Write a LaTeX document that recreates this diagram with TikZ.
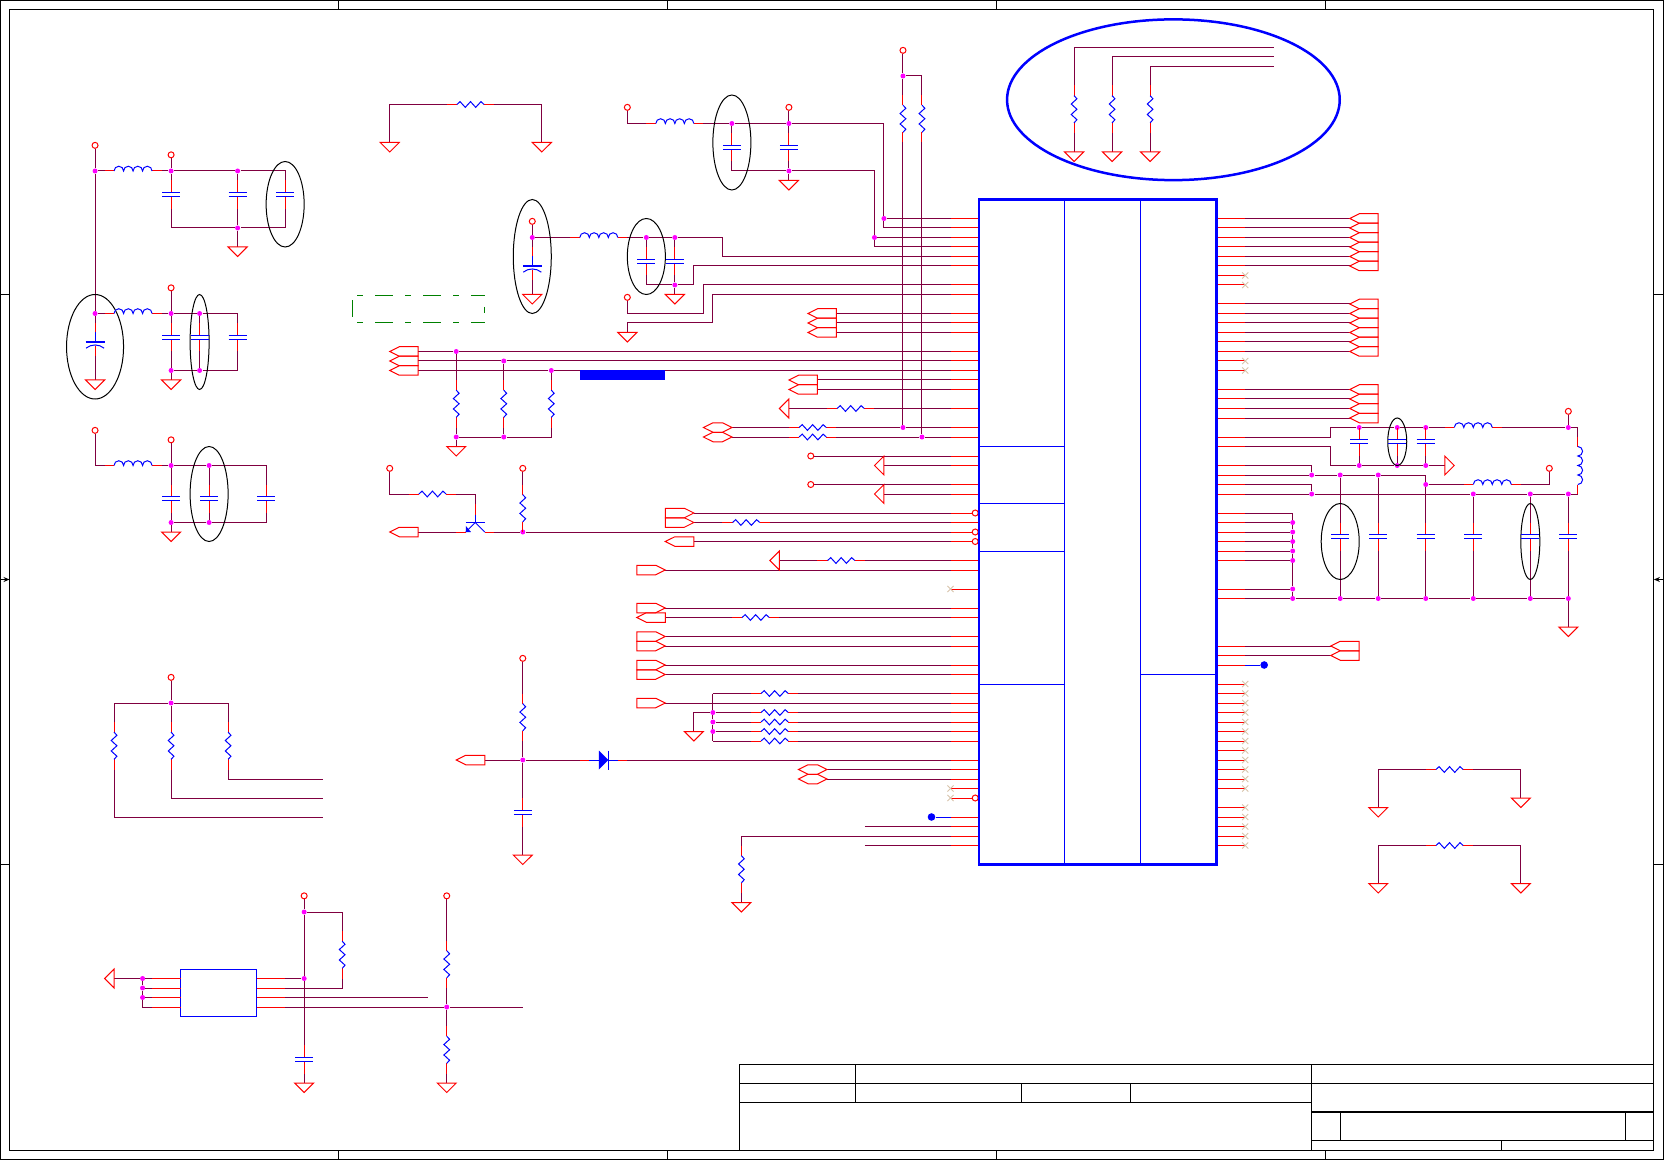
\documentclass[tikz,border=0pt]{standalone}
\usetikzlibrary{arrows.meta}
\definecolor{wirec}{RGB}{128,0,64}
\definecolor{ncc}{RGB}{215,195,170}
\definecolor{grn}{RGB}{0,128,0}
\definecolor{jcol}{RGB}{255,0,255}
\pgfdeclarelayer{wires}\pgfsetlayers{wires,main}
\tikzset{
 wire/.style={draw=wirec,line width=.5pt},
 pin/.style={draw=red,line width=.5pt},
 comp/.style={draw=blue,line width=.5pt},
 port/.style={draw=red,line width=.5pt,line join=miter},
 ncx/.style={draw=ncc,line width=.45pt},
 ell/.style={draw=black,line width=.5pt},
 fr/.style={draw=black,line width=.5pt},
 junc/.style={circle,fill=jcol,inner sep=0pt,minimum size=2.5pt},
 pwr/.style={circle,draw=red,fill=white,line width=.5pt,inner sep=0pt,minimum size=3pt},
 bub/.style={circle,draw=red,fill=white,line width=.5pt,inner sep=0pt,minimum size=3pt},
 bdot/.style={circle,fill=blue,inner sep=0pt,minimum size=3.8pt},
 bigbox/.style={draw=blue,line width=1.25pt,inner sep=0pt,outer sep=0pt},
 smallbox/.style={draw=blue,line width=.5pt,inner sep=0pt,outer sep=0pt}
}
% symbols, each with pin ends name-a and name-b
\newcommand\syRh[3]{\coordinate (#1-a) at (#2-2.5,#3);\coordinate (#1-b) at (#2+2.5,#3);
 \draw[pin] (#1-a)--(#2-1.43,#3);\draw[pin] (#2+1.43,#3)--(#1-b);
 \draw[comp] (#2-1.43,#3)--++(.33,-.3)--++(.55,.6)--++(.55,-.6)--++(.55,.6)--++(.55,-.6)--++(.33,.3);}
\newcommand\syRv[3]{\coordinate (#1-a) at (#2,#3-2.5);\coordinate (#1-b) at (#2,#3+2.5);
 \draw[pin] (#1-a)--(#2,#3-1.43);\draw[pin] (#2,#3+1.43)--(#1-b);
 \draw[comp] (#2,#3-1.43)--++(.3,.33)--++(-.6,.55)--++(.6,.55)--++(-.6,.55)--++(.6,.55)--++(-.3,.33);}
\newcommand\syCp[3]{\coordinate (#1-a) at (#2,#3-1.5);\coordinate (#1-b) at (#2,#3+1.5);
 \draw[pin] (#1-a)--(#2,#3-.23);\draw[pin] (#2,#3+.23)--(#1-b);
 \draw[comp] (#2-.95,#3-.23)--(#2+.95,#3-.23);\draw[comp] (#2-.95,#3+.23)--(#2+.95,#3+.23);}
\newcommand\syPC[3]{\coordinate (#1-a) at (#2,#3-2);\coordinate (#1-b) at (#2,#3+1.5);
 \draw[pin] (#1-a)--(#2,#3-1);\draw[comp] (#2,#3-1)--(#2,#3);\draw[pin] (#2,#3+.4)--(#1-b);
 \draw[comp,line width=.8pt] (#2-1,#3)--(#2+1,#3);
 \draw[comp] (#2-.95,#3+.65) .. controls (#2-.4,#3+.2) and (#2+.4,#3+.2) .. (#2+.95,#3+.65);}
\newcommand\syLh[3]{\coordinate (#1-a) at (#2-3,#3);\coordinate (#1-b) at (#2+3,#3);
 \draw[pin] (#1-a)--(#2-2,#3);\draw[pin] (#2+2,#3)--(#1-b);
 \draw[comp] (#2-2,#3) arc[start angle=180,end angle=0,radius=2.376pt] arc[start angle=180,end angle=0,radius=2.376pt] arc[start angle=180,end angle=0,radius=2.376pt] arc[start angle=180,end angle=0,radius=2.376pt];}
\newcommand\syLv[3]{\coordinate (#1-a) at (#2,#3-3);\coordinate (#1-b) at (#2,#3+3);
 \draw[pin] (#1-a)--(#2,#3-2);\draw[pin] (#2,#3+2)--(#1-b);
 \draw[comp] (#2,#3-2) arc[start angle=90,end angle=-90,radius=2.375pt] arc[start angle=90,end angle=-90,radius=2.375pt] arc[start angle=90,end angle=-90,radius=2.375pt] arc[start angle=90,end angle=-90,radius=2.375pt];}
\newcommand\syPw[3]{\node[pwr] (#1) at (#2,#3) {};}
\newcommand\syGd[3]{\coordinate (#1) at (#2,#3);\draw[port] (#2-1,#3)--(#2+1,#3)--(#2,#3+1)--cycle;}
\newcommand\syPL[3]{\coordinate (#1) at (#2+3,#3);\coordinate (#1t) at (#2,#3);
 \draw[port] (#2,#3)--(#2+1,#3-.5)--(#2+3,#3-.5)--(#2+3,#3+.5)--(#2+1,#3+.5)--cycle;}
\newcommand\syPR[3]{\coordinate (#1) at (#2,#3);
 \draw[port] (#2,#3)--(#2-1,#3-.5)--(#2-3,#3-.5)--(#2-3,#3+.5)--(#2-1,#3+.5)--cycle;}
\newcommand\syBD[3]{\coordinate (#1) at (#2,#3);
 \draw[port] (#2,#3)--(#2-1,#3-.5)--(#2-2,#3-.5)--(#2-3,#3)--(#2-2,#3+.5)--(#2-1,#3+.5)--cycle;}
\newcommand\syTL[3]{\coordinate (#1) at (#2,#3);\draw[port] (#2,#3-1)--(#2-1,#3)--(#2,#3+1)--cycle;}
\newcommand\syTR[3]{\coordinate (#1) at (#2,#3);\draw[port] (#2,#3-1)--(#2+1,#3)--(#2,#3+1)--cycle;}
\newcommand\syNC[2]{\draw[ncx] (#1-.32,#2-.32)--(#1+.32,#2+.32);\draw[ncx] (#1-.32,#2+.32)--(#1+.32,#2-.32);}
\begin{document}
\begin{tikzpicture}[x=4.7525pt,y=-4.75pt]
\useasboundingbox (0pt,0pt) rectangle (832pt,-580pt);
% sheet frame
\draw[fr] (.05,.05) rectangle (175,122);
\draw[fr] (1,1) rectangle (174,121.1);
\foreach \a in {35.6,70.2,104.85,139.45} {\draw[fr] (\a,.05)--(\a,1);\draw[fr] (\a,121.1)--(\a,122);}
\foreach \b in {31,91} {\draw[fr] (.05,\b)--(1,\b);\draw[fr] (174,\b)--(175,\b);}
\draw[fr,-{Stealth[length=3pt,width=2.5pt]}] (.05,61)--(1,61);
\draw[fr,-{Stealth[length=3pt,width=2.5pt]}] (175,61)--(174,61);
% title block
\draw[fr] (77.85,121.1)--(77.85,112)--(174,112);
\draw[fr] (77.85,114)--(174,114);
\draw[fr] (77.85,116)--(137.96,116);
\draw[fr] (90.03,112)--(90.03,116);
\draw[fr] (107.5,114)--(107.5,116);
\draw[fr] (118.97,114)--(118.97,116);
\draw[fr] (137.96,112)--(137.96,121.1);
\draw[fr,line width=1pt] (137.96,117)--(174,117);
\draw[fr] (137.96,120)--(174,120);
\draw[fr] (141.03,117)--(141.03,120);
\draw[fr] (171.05,117)--(171.05,120);
\draw[fr] (157.95,120)--(157.95,121.1);
% junctions
\foreach \a/\b in {10/18,18/18,25/18,25/24,10/33,18/33,21/33,18/39,21/39,18/49,22/49,18/55,22/55,77/13,83/13,83/18,93/23,92/25,56/25,68/25,71/25,71/30,48/37,53/38,58/39,48/46,53/46,95/45,97/46,95/8,55/56,75/75,75/76,75/77,55/80,143/45,147/45,150/45,165/45,143/49,147/49,150/49,138/50,141/50,145/50,150/51,138/52,155/52,161/52,165/52,136/55,136/56,136/57,136/58,136/59,136/62,136/63,141/63,145/63,150/63,155/63,161/63,165/63,18/74,15/103,15/104,15/105,32/96,32/103,47/106}
 {\node[junc] (j\a-\b) at (\a,\b) {};}
% bends and free wire ends
\foreach \a/\b in {76/27,73/28,74/33,75/34,140/45,140/49,75/73,75/78,15/106,134/5,134/6,134/7,34/82,34/84,34/86,91/87,91/89,45/105,55/106}
 {\coordinate (b\a-\b) at (\a,\b);}
% big part and its pins
\foreach \y in {23,24,25,26,27,28,30,31,33,34,35,37,38,39,40,41,43,45,46,48,49,51,52,54,55,56,57,59,60,62,64,65,67,68,70,71,73,74,75,76,77,78,80,81,82,83,84,86,87,88,89}
 {\coordinate (L\y) at (100,\y);\draw[pin] (L\y)--(103,\y);}
\foreach \y in {23,24,25,26,27,28,29,30,32,33,34,35,36,37,38,39,41,42,43,44,46,47,49,50,51,52,54,55,56,57,58,59,62,63,68,69,70,72,73,74,75,76,77,78,79,80,81,82,83,85,86,87,88,89}
 {\coordinate (R\y) at (131,\y);\draw[pin] (R\y)--(128,\y);}
\foreach \y in {29,30,38,39,72,73,74,75,76,77,78,79,80,81,82,83,85,86,87,88,89} {\syNC{131}{\y}}
\foreach \y in {62,83,84} {\syNC{100}{\y}}
\foreach \y in {54,56,57,84} {\node[bub] (bb\y) at (102.6,\y) {};}
\node[bigbox,minimum width=118.81pt,minimum height=332.5pt] (ic) at (115.5,56) {};
\draw[comp] (112,21)--(112,91);\draw[comp] (120,21)--(120,91);
\foreach \y in {47,53,58,72} {\draw[comp] (103,\y)--(112,\y);}
\draw[comp] (120,71)--(128,71);
% large blue ellipse
\draw[blue,line width=1.25pt] (123.45,10.5) ellipse [x radius=17.5,y radius=8.46];
% thin black ellipses
\draw[ell] (10,36.5) ellipse [x radius=3,y radius=5.5];
\draw[ell] (30,21.5) ellipse [x radius=2,y radius=4.5];
\draw[ell] (21,36) ellipse [x radius=1,y radius=5];
\draw[ell] (22,52) ellipse [x radius=2,y radius=5];
\draw[ell] (77,15) ellipse [x radius=2,y radius=5];
\draw[ell] (56,27) ellipse [x radius=2,y radius=6];
\draw[ell] (68,27) ellipse [x radius=2,y radius=4];
\draw[ell] (147,46.5) ellipse [x radius=1,y radius=2.5];
\draw[ell] (141,57) ellipse [x radius=2,y radius=4];
\draw[ell] (161,57) ellipse [x radius=1,y radius=4];
% green dash-dot outline
\begin{scope}[grn,line width=.5pt]
\draw[dash pattern=on 3pt off 6pt on 9pt off 6pt,dash phase=21.5pt] (37.05,31.1)--(51,31.1);
\draw[dash pattern=on 3pt off 6pt on 9pt off 6pt,dash phase=21.5pt] (37.05,34)--(51,34);
\draw (37.05,31.6)--(37.05,33.35);
\draw (51,32.3)--(51,32.95);
\end{scope}
\fill[blue] (61,39) rectangle (70,40);
% power group 1
\syPw{pA}{10}{15.3}\syLh{LA}{14}{18}\syPw{pB}{18}{16.3}
\syCp{CA}{18}{20.5}\syCp{CB}{25}{20.5}\syCp{CC}{30}{20.5}\syGd{gA}{25}{26}
% power group 2
\syLh{LB}{14}{33}\syPw{pC}{18}{30.3}\syCp{CD}{18}{35.5}\syCp{CE}{21}{35.5}\syCp{CF}{25}{35.5}
\syGd{gB}{18}{40}\syPC{PA}{10}{36}\syGd{gC}{10}{40}
% power group 3
\syPw{pD}{10}{45.3}\syLh{LC}{14}{49}\syPw{pE}{18}{46.3}
\syCp{CG}{18}{52.5}\syCp{CH}{22}{52.5}\syCp{CI}{28}{52.5}\syGd{gD}{18}{56}
% top resistor
\syRh{RA}{49.5}{11}\syGd{gE}{41}{15}\syGd{gF}{57}{15}
% top-middle filters
\syPw{pF}{66}{11.3}\syLh{LD}{71}{13}\syPw{pG}{83}{11.3}\syCp{CJ}{77}{15.5}\syCp{CK}{83}{15.5}\syGd{gG}{83}{19}
\syPw{pH}{56}{23.3}\syPC{PB}{56}{28}\syGd{gH}{56}{31}\syLh{LE}{63}{25}
\syCp{CL}{68}{27.5}\syCp{CM}{71}{27.5}\syGd{gI}{71}{31}
\syPw{pI}{66}{31.3}\syGd{gJ}{66}{35}
% left ports
\foreach \y in {33,34,35} {\syPL{pk\y}{85}{\y}}
\foreach \y in {37,38,39} {\syPL{q\y}{41}{\y}}
\foreach \y in {40,41} {\syPL{pm\y}{83}{\y}}
\syRv{RB}{48}{42.5}\syRv{RC}{53}{42.5}\syRv{RD}{58}{42.5}\syGd{gK}{48}{47}
\syTL{TA}{83}{43}\syRh{RE}{89.5}{43}
\syBD{s45}{77}{45}\syBD{s46}{77}{46}\syRh{RF}{85.5}{45}\syRh{RG}{85.5}{46}
\syPw{pJ}{95}{5.3}\syRv{RH}{95}{12.5}\syRv{RI}{97}{12.5}
\syPw{pK}{85.3}{48}\syTL{TB}{93}{49}\syPw{pL}{85.3}{51}\syTL{TC}{93}{52}
\syPR{u54}{73}{54}\syPR{u55}{73}{55}\syRh{RJ}{78.5}{55}
\syPw{pM}{55}{49.3}\syRv{RK}{55}{53.5}
% transistor
\coordinate (QB) at (50,53);\coordinate (QE) at (48,56);\coordinate (QC) at (52,56);
\draw[pin] (QB)--(50,54.2);\draw[comp] (50,54.2)--(50,55);
\draw[comp] (49,55)--(51,55);\draw[comp] (50,55)--(49,56);\draw[comp] (50,55)--(51,56);
\fill[blue] (49,56)--(49,55.35)--(49.55,56)--cycle;
\draw[pin] (QE)--(49,56);\draw[pin] (51,56)--(QC);
\syPw{pN}{41}{49.3}\syRh{RL}{45.5}{52}\syPL{q56}{41}{56}
\syPL{u57}{70}{57}
\syTL{TD}{82}{59}\syRh{RM}{88.5}{59}\syPR{u60}{70}{60}
\syPR{u64}{70}{64}\syPL{u65}{67}{65}\syRh{RN}{79.5}{65}
\foreach \y in {67,68,70,71,74} {\syPR{u\y}{70}{\y}}
\foreach \n/\y in {RO/73,RP/75,RQ/76,RR/77,RS/78} {\syRh{\n}{81.5}{\y}}
\syGd{gL}{73}{77}
% diode branch
\syPL{u80}{48}{80}
\coordinate (DA-a) at (61,80);\coordinate (DA-b) at (66,80);
\draw[pin] (DA-a)--(62,80);\draw[comp] (62,80)--(63,80);
\fill[blue] (63,79)--(64,80)--(63,81)--cycle;
\draw[comp] (64,79)--(64,81);\draw[comp] (64,80)--(65,80);\draw[pin] (65,80)--(DA-b);
\syPw{pO}{55}{69.3}\syRv{RT}{55}{75.5}\syCp{CN}{55}{85.5}\syGd{gM}{55}{90}
\syBD{s81}{87}{81}\syBD{s82}{87}{82}
\node[bdot] (dotA) at (98,86) {};
\syRv{RU}{78}{91.5}\syGd{gN}{78}{95}
% right ports
\foreach \y in {23,24,25,26,27,28,32,33,34,35,36,37,41,42,43,44} {\syPL{r\y}{142}{\y}}
\foreach \y in {68,69} {\syPL{r\y}{140}{\y}}
\node[bdot] (dotB) at (133,70) {};
% ringed resistors
\syRv{RV}{113}{11.5}\syRv{RW}{117}{11.5}\syRv{RX}{121}{11.5}
\syGd{gO}{113}{16}\syGd{gW}{117}{16}\syGd{gX}{121}{16}
% right filter
\syCp{CO}{143}{46.5}\syCp{CP}{147}{46.5}\syCp{CW}{150}{46.5}
\syLh{LF}{155}{45}\syLv{LV}{166}{49}\syPw{pP}{165}{43.3}\syTR{TE}{152}{49}
\syLh{LG}{157}{51}\syPw{pQ}{163}{49.3}
\syCp{CR}{141}{56.5}\syCp{CS}{145}{56.5}\syCp{CQ}{150}{56.5}\syCp{CT}{155}{56.5}\syCp{CU}{161}{56.5}\syCp{CV}{165}{56.5}
\syGd{gP}{165}{66}
\syRh{RY}{152.5}{81}\syGd{gQ}{145}{85}\syGd{gR}{160}{84}
\syRh{RZ}{152.5}{89}\syGd{gS}{145}{93}\syGd{gT}{160}{93}
% lower left
\syPw{pR}{18}{71.3}\syRv{Ra}{12}{78.5}\syRv{Rb}{18}{78.5}\syRv{Rc}{24}{78.5}
\node[smallbox,minimum width=38.02pt,minimum height=23.75pt] (chip) at (23,104.5) {};
\foreach \y in {103,104,105,106} {\coordinate (UL\y) at (16,\y);\coordinate (UR\y) at (30,\y);
 \draw[pin] (UL\y)--(19,\y);\draw[pin] (27,\y)--(UR\y);}
\syTL{TF}{12}{103}
\syPw{pS}{32}{94.3}\syRv{Rd}{36}{100.5}\syCp{Ce}{32}{111.5}\syGd{gU}{32}{114}
\syPw{pT}{47}{94.3}\syRv{Re}{47}{101.5}\syRv{Rf}{47}{110.5}\syGd{gV}{47}{114}
% connectors
\begin{pgfonlayer}{wires}
\begin{scope}[every path/.style={wire}]
\draw (pA)--(j10-18)--(j10-33);
\draw (j10-18)--(LA-a);
\draw (LA-b)--(j18-18)--(j25-18)-|(CC-a);
\draw (pB)--(j18-18)--(CA-a);
\draw (j25-18)--(CB-a);
\draw (CA-b)|-(j25-24);\draw (CB-b)--(j25-24);\draw (CC-b)|-(j25-24);\draw (j25-24)--(gA);
\draw (j10-33)--(LB-a);\draw (LB-b)--(j18-33)--(j21-33)-|(CF-a);
\draw (pC)--(j18-33)--(CD-a);\draw (j21-33)--(CE-a);
\draw (CD-b)--(j18-39);\draw (CE-b)--(j21-39);\draw (CF-b)|-(j21-39);
\draw (j21-39)--(j18-39)--(gB);
\draw (j10-33)--(PA-a);\draw (PA-b)--(gC);
\draw (pD)|-(LC-a);\draw (LC-b)--(j18-49)--(j22-49)-|(CI-a);
\draw (pE)--(j18-49)--(CG-a);\draw (j22-49)--(CH-a);
\draw (CG-b)--(j18-55);\draw (CH-b)--(j22-55);\draw (CI-b)|-(j22-55);
\draw (j22-55)--(j18-55)--(gD);
\draw (gE)|-(RA-a);\draw (RA-b)-|(gF);
\draw (pF)|-(LD-a);\draw (LD-b)--(j77-13)--(j83-13)-|(j93-23);
\draw (j93-23)--(L23);\draw (j93-23)|-(L24);
\draw (pG)--(j83-13)--(CK-a);\draw (j77-13)--(CJ-a);
\draw (CJ-b)|-(j83-18);\draw (CK-b)--(j83-18)--(gG);
\draw (j83-18)-|(j92-25);\draw (j92-25)--(L25);\draw (j92-25)|-(L26);
\draw (pH)--(j56-25)--(LE-a);\draw (j56-25)--(PB-a);\draw (PB-b)--(gH);
\draw (LE-b)--(j68-25)--(j71-25)-|(b76-27)--(L27);
\draw (j68-25)--(CL-a);\draw (j71-25)--(CM-a);
\draw (CL-b)|-(j71-30);\draw (CM-b)--(j71-30)--(gI);
\draw (j71-30)-|(b73-28)--(L28);
\draw (pI)|-(b74-33)|-(L30);
\draw (gJ)|-(b75-34)|-(L31);
\foreach \y in {33,34,35} {\draw (pk\y)--(L\y);}
\draw (q37)--(j48-37)--(L37);\draw (q38)--(j53-38)--(L38);\draw (q39)--(j58-39)--(L39);
\draw (j48-37)--(RB-a);\draw (RB-b)--(j48-46);
\draw (j53-38)--(RC-a);\draw (RC-b)--(j53-46);
\draw (j58-39)--(RD-a);\draw (RD-b)|-(j53-46);
\draw (j53-46)--(j48-46)--(gK);
\foreach \y in {40,41} {\draw (pm\y)--(L\y);}
\draw (TA)--(RE-a);\draw (RE-b)--(L43);
\draw (s45)--(RF-a);\draw (RF-b)--(j95-45)--(L45);
\draw (s46)--(RG-a);\draw (RG-b)--(j97-46)--(L46);
\draw (pJ)--(j95-8)--(RH-a);\draw (j95-8)-|(RI-a);
\draw (RH-b)--(j95-45);\draw (RI-b)--(j97-46);
\draw (pK)--(L48);\draw (TB)--(L49);\draw (pL)--(L51);\draw (TC)--(L52);
\draw (u54)--(L54);\draw (u55)--(RJ-a);\draw (RJ-b)--(L55);
\draw (pM)--(RK-a);
\draw (pN)|-(RL-a);\draw (RL-b)-|(QB);
\draw (q56)--(QE);\draw (QC)--(j55-56)--(L56);
\draw (u57)--(L57);
\draw (TD)--(RM-a);\draw (RM-b)--(L59);\draw (u60)--(L60);
\draw (u64)--(L64);\draw (u65)--(RN-a);\draw (RN-b)--(L65);
\foreach \y in {67,68,70,71,74} {\draw (u\y)--(L\y);}
\draw (b75-73)--(RO-a);\draw (RO-b)--(L73);
\draw (b75-73)--(j75-75)--(j75-76)--(j75-77)--(b75-78);
\draw (j75-75)--(RP-a);\draw (RP-b)--(L75);
\draw (j75-76)--(RQ-a);\draw (RQ-b)--(L76);
\draw (j75-77)--(RR-a);\draw (RR-b)--(L77);
\draw (b75-78)--(RS-a);\draw (RS-b)--(L78);
\draw (j75-75)-|(gL);
\draw (u80)--(j55-80)--(DA-a);\draw (DA-b)--(L80);
\draw (pO)--(RT-a);\draw (RT-b)--(j55-80)--(CN-a);\draw (CN-b)--(gM);
\draw (s81)--(L81);\draw (s82)--(L82);
\draw (b91-87)--(L87);\draw (b91-89)--(L89);
\draw (RU-a)|-(L88);\draw (RU-b)--(gN);
\foreach \y in {23,24,25,26,27,28,32,33,34,35,36,37,41,42,43,44,68,69} {\draw (R\y)--(r\y t);}
\draw (RV-a)|-(b134-5);\draw (RW-a)|-(b134-6);\draw (RX-a)|-(b134-7);
\draw (RV-b)--(gO);\draw (RW-b)--(gW);\draw (RX-b)--(gX);
\draw (R46)-|(b140-45)--(j143-45)--(j147-45)--(j150-45)--(LF-a);
\draw (LF-b)--(j165-45)-|(LV-a);\draw (LV-b)--(j165-52);
\draw (pP)--(j165-45);
\draw (R47)-|(b140-49)--(j143-49)--(j147-49)--(j150-49)--(TE);
\draw (CO-b)--(j143-49);\draw (CP-b)--(j147-49);\draw (CW-b)--(j150-49);
\draw (R49)-|(j138-50);
\draw (R50)--(j138-50)--(j141-50)--(j145-50)-|(j150-51);
\draw (j150-51)--(CQ-a);\draw (j141-50)--(CR-a);\draw (j145-50)--(CS-a);
\draw (j150-51)--(LG-a);\draw (LG-b)-|(pQ);
\draw (R51)-|(j138-52);
\draw (R52)--(j138-52)--(j155-52)--(j161-52)--(j165-52);
\draw (j155-52)--(CT-a);\draw (j161-52)--(CU-a);\draw (j165-52)--(CV-a);
\draw (CR-b)--(j141-63);\draw (CS-b)--(j145-63);\draw (CQ-b)--(j150-63);
\draw (CT-b)--(j155-63);\draw (CU-b)--(j161-63);\draw (CV-b)--(j165-63);
\draw (R63)--(j136-63)--(j141-63)--(j145-63)--(j150-63)--(j155-63)--(j161-63)--(j165-63)--(gP);
\draw (R54)-|(j136-55)--(j136-56)--(j136-57)--(j136-58)--(j136-59)--(j136-62)--(j136-63);
\foreach \y in {55,56,57,58,59,62} {\draw (R\y)--(j136-\y);}
\draw (gQ)|-(RY-a);\draw (RY-b)-|(gR);
\draw (gS)|-(RZ-a);\draw (RZ-b)-|(gT);
\draw (pR)--(j18-74)--(Rb-a);\draw (j18-74)-|(Ra-a);\draw (j18-74)-|(Rc-a);
\draw (Rc-b)|-(b34-82);\draw (Rb-b)|-(b34-84);\draw (Ra-b)|-(b34-86);
\draw (TF)--(j15-103)--(UL103);
\draw (j15-103)--(j15-104)--(j15-105)--(b15-106)--(UL106);
\draw (j15-104)--(UL104);\draw (j15-105)--(UL105);
\draw (pS)--(j32-96)--(j32-103)--(Ce-a);\draw (Ce-b)--(gU);
\draw (j32-96)-|(Rd-a);\draw (Rd-b)|-(UR104);
\draw (UR103)--(j32-103);\draw (UR105)--(b45-105);
\draw (UR106)--(j47-106)--(b55-106);
\draw (pT)--(Re-a);\draw (Re-b)--(j47-106)--(Rf-a);\draw (Rf-b)--(gV);
\end{scope}
\draw[comp] (dotA)--(L86);
\draw[comp] (dotB)--(R70);
\end{pgfonlayer}
\end{tikzpicture}
\end{document}
